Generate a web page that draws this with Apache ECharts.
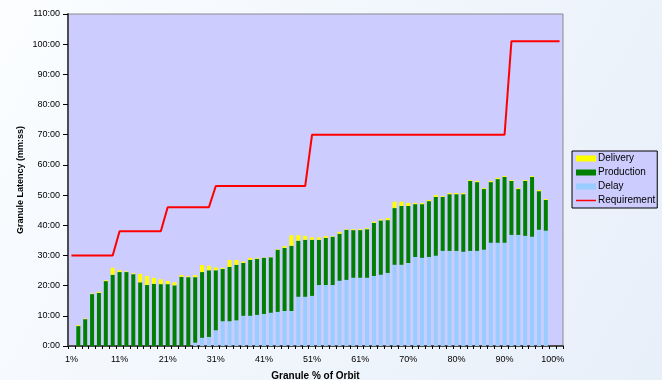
<!DOCTYPE html>
<html>
<head>
<meta charset="utf-8">
<script src="https://cdn.jsdelivr.net/npm/echarts@6/dist/echarts.min.js"></script>
<style>
html,body{margin:0;padding:0;}
#c{width:662px;height:380px;}
</style>
</head>
<body>
<div id="c"></div>
<script>
// Category labels (72 categories; every 7th label shown)
var categories = ['1%','3%','4%','6%','7%','8%','10%','11%','13%','14%','15%','17%','18%','20%','21%','23%','24%','25%','27%','28%','30%','31%','32%','34%','35%','37%','38%','39%','41%','42%','44%','45%','46%','48%','49%','51%','52%','54%','55%','56%','58%','59%','61%','62%','63%','65%','66%','68%','69%','70%','72%','73%','75%','76%','77%','79%','80%','82%','83%','85%','86%','87%','89%','90%','92%','93%','94%','96%','97%','99%','100%','101%'];

// Minutes
var delay = [null,0,0,0,0,0,0,0,0,0,0,0,0,0,0,0,0,0,1.1,2.7,3.0,5.2,8.2,8.2,8.5,10.0,10.0,10.3,10.6,11.0,11.3,11.6,11.6,16.3,16.3,16.6,20.2,20.2,20.2,21.6,21.9,22.6,22.6,22.6,23.2,23.6,24.2,26.9,26.9,27.5,29.5,29.2,29.5,29.9,31.5,31.5,31.5,31.2,31.5,31.5,31.9,34.2,34.2,34.2,36.8,36.8,36.5,36.2,38.5,38.2,null,null];

var production = [null,6.6,8.9,17.2,17.6,21.5,23.6,24.5,24.5,23.8,21.1,20.2,20.6,20.5,20.5,20.1,22.9,22.8,21.7,21.8,22.1,19.9,17.3,18.0,18.4,17.5,18.5,18.6,18.6,18.4,20.6,20.9,21.6,18.6,18.9,18.6,15.0,15.6,16.0,15.6,16.6,15.8,15.8,16.1,17.6,18.0,17.5,18.8,19.5,18.9,17.5,17.8,18.5,19.5,17.9,18.8,18.8,19.1,23.2,22.8,20.1,20.1,21.1,21.8,17.9,15.2,18.2,19.8,12.8,10.2,null,null];

var delivery = [null,0.3,0.2,0.2,0.4,0.3,2.3,0.6,0.2,0.3,2.8,3.0,2.0,1.6,1.0,1.0,0.6,0.3,0.7,2.3,1.5,0.9,0.4,2.3,1.6,0.5,0.7,0.3,0.1,0.1,0.2,0.6,3.5,1.8,1.3,0.8,0.8,0.6,0.2,0.6,0.2,0.3,0.3,0.4,0.4,0.4,0.7,2.1,1.4,1.0,0.4,0.4,0.4,0.6,0.3,0.4,0.4,0.4,0.3,0.4,0.3,0.4,0.4,0.3,0.3,0.3,0.3,0.3,0.4,0.3,null,null];

var requirement = [30,30,30,30,30,30,30,38,38,38,38,38,38,38,46,46,46,46,46,46,46,53,53,53,53,53,53,53,53,53,53,53,53,53,53,70,70,70,70,70,70,70,70,70,70,70,70,70,70,70,70,70,70,70,70,70,70,70,70,70,70,70,70,70,101,101,101,101,101,101,101,101];

var yTicks = {min:0, max:110, interval:10};

var chart = echarts.init(document.getElementById('c'), null, {renderer:'canvas'});
var font = 'Liberation Sans, Arial, sans-serif';
var lineIcon = 'path://M0,0L0.05,0L0,0.05Z M0,2.2L20,2.2L20,3.8L0,3.8Z M19.95,6L20,6L20,5.95Z';
chart.setOption({
  animation:false,
  backgroundColor: new echarts.graphic.LinearGradient(0,0,1,1,[
    {offset:0,color:'#fbfdff'},{offset:1,color:'#e7eff9'}]),
  textStyle:{fontFamily:font},
  grid:{left:68,right:99,top:14,bottom:34,show:true,backgroundColor:'#CCCCFF',borderColor:'#8a8a8a',borderWidth:1,
        containLabel:false,outerBoundsMode:'none'},
  legend:{
    orient:'vertical',left:572,top:151,
    backgroundColor:'#CCCCFF',borderColor:'#000',borderWidth:1,borderRadius:0,
    padding:[2,2,2,4],itemGap:3,itemWidth:20,itemHeight:6,
    textStyle:{fontSize:10,color:'#000',fontFamily:font,lineHeight:11,padding:[0,0,0,-3]},
    data:[{name:'Delivery',icon:'rect'},{name:'Production',icon:'rect'},{name:'Delay',icon:'rect'},{name:'Requirement',icon:lineIcon}]
  },
  xAxis:{
    type:'category',data:categories,boundaryGap:true,
    name:'Granule % of Orbit',nameLocation:'middle',nameGap:25,nameMoveOverlap:false,
    nameTextStyle:{fontSize:10,fontWeight:'bold',color:'#000',fontFamily:font},
    axisLine:{lineStyle:{color:'#4d4d4d',width:2}},
    axisTick:{show:true,interval:0,length:3,inside:false,lineStyle:{color:'#000'}},
    axisLabel:{interval:6,fontSize:9,color:'#000',margin:9,fontFamily:font},
    splitLine:{show:false}
  },
  yAxis:{
    type:'value',min:yTicks.min,max:yTicks.max,interval:yTicks.interval,
    name:'Granule Latency (mm:ss)',nameLocation:'middle',nameGap:43,nameRotate:90,nameMoveOverlap:false,
    nameTextStyle:{fontSize:9,fontWeight:'bold',color:'#000',fontFamily:font},
    axisLine:{show:true,lineStyle:{color:'#4d4d4d',width:2}},
    axisTick:{show:true,length:5,lineStyle:{color:'#000'}},
    axisLabel:{fontSize:9,color:'#000',margin:8,fontFamily:font,formatter:function(v){return v+':00';}},
    splitLine:{show:false}
  },
  series:[
    {name:'Delay',type:'bar',stack:'t',data:delay,barWidth:4,itemStyle:{color:'#99CCFF'}},
    {name:'Production',type:'bar',stack:'t',data:production,barWidth:4,itemStyle:{color:'#008000'}},
    {name:'Delivery',type:'bar',stack:'t',data:delivery,barWidth:4,itemStyle:{color:'#FFFF00'}},
    {name:'Requirement',type:'line',data:requirement,symbol:'none',showSymbol:false,
     lineStyle:{color:'#FF0000',width:2},itemStyle:{color:'#FF0000'},z:5}
  ]
});
</script>
</body>
</html>
